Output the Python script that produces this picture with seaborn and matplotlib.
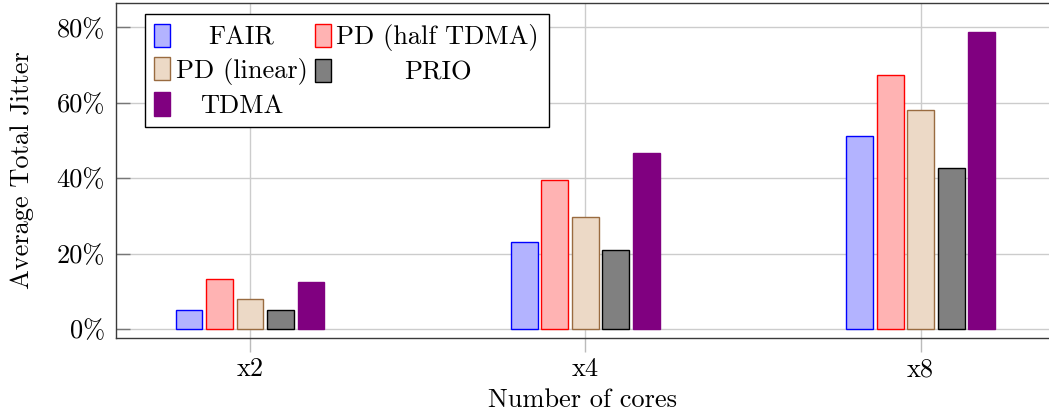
import matplotlib
matplotlib.use("Agg")
import matplotlib.pyplot as plt
import seaborn as sns
import pandas as pd
from matplotlib.ticker import FuncFormatter
from matplotlib.patches import Patch
from matplotlib.transforms import Affine2D

categories = ["x2", "x4", "x8"]
series_names = ["FAIR", "PD (half TDMA)", "PD (linear)", "PRIO", "TDMA"]
fair = [5.0, 23.1, 51.3]
pd_half = [13.2, 39.4, 67.3]
pd_linear = [7.9, 29.8, 58.1]
prio = [5.0, 21.0, 42.8]
tdma = [12.5, 46.8, 78.9]
yticks = [0, 20, 40, 60, 80]

values = [fair, pd_half, pd_linear, prio, tdma]
rows = []
for name, vals in zip(series_names, values):
    for c, v in zip(categories, vals):
        rows.append({"cores": c, "series": name, "jitter": v})
df = pd.DataFrame(rows)

fills = [(0.7, 0.7, 1.0), (1.0, 0.7, 0.7), (0.925, 0.85, 0.775), (0.5, 0.5, 0.5), (0.5, 0.0, 0.5)]
edges = [(0, 0, 1), (1, 0, 0), (0.6, 0.42, 0.25), (0, 0, 0), (0.5, 0.0, 0.5)]

sns.set_theme(style="whitegrid")
plt.rcParams["font.family"] = ["cmr10", "DejaVu Serif"]
plt.rcParams["axes.formatter.use_mathtext"] = True
plt.rcParams["mathtext.fontset"] = "cm"
plt.rcParams["text.color"] = "black"
plt.rcParams["axes.labelcolor"] = "black"
plt.rcParams["xtick.color"] = "black"
plt.rcParams["ytick.color"] = "black"

FS = 19

fig = plt.figure(figsize=(10.49, 4.15), dpi=100)
ax = fig.add_axes([0.1106, 0.1855, 0.8894, 0.8073])

sns.barplot(data=df, x="cores", y="jitter", hue="series", hue_order=series_names,
            order=categories, palette=fills, width=0.455, gap=0.12, ax=ax,
            saturation=1, legend=False, linewidth=1.0)

for i, cont in enumerate(ax.containers):
    for p in cont:
        p.set_facecolor(fills[i])
        p.set_edgecolor(edges[i])
        p.set_linewidth(1.0)

ax.set_xlim(-0.3996, 2.3826)
ax.set_ylim(-2.4, 86.5)
ax.set_yticks(yticks)
ax.yaxis.set_major_formatter(FuncFormatter(lambda v, p: f"{v:.0f}%"))

ax.grid(True, color="#cccccc", linewidth=1.0)
ax.set_axisbelow(True)
for k, s in ax.spines.items():
    s.set_visible(k != "right")
    s.set_color("#3a3a3a")
    s.set_linewidth(1.0)
ax.tick_params(axis="y", direction="in", length=10, width=1.0, labelsize=FS,
               color="#777777", left=True, right=False, pad=8)
ax.tick_params(axis="x", direction="out", length=10, width=1.0, labelsize=FS,
               color="#bbbbbb", bottom=True, top=False, pad=4)

ax.set_xlabel("Number of cores", fontsize=FS, labelpad=5)
ax.set_ylabel("Average Total Jitter", fontsize=FS, labelpad=16)

# row-major legend order (FAIR, PD half / PD linear, PRIO / TDMA) with 2 columns
order = [0, 2, 4, 1, 3]
handles = [Patch(facecolor=fills[i], edgecolor=edges[i], linewidth=1.0) for i in order]
labels = [series_names[i] for i in order]
leg = ax.legend(handles, labels, ncol=2, loc="upper left",
                bbox_to_anchor=(0.031, 0.967), borderaxespad=0, fontsize=FS,
                handlelength=0.6, handleheight=1.0, handletextpad=0.2,
                columnspacing=0.3, labelspacing=0.28, borderpad=0.36,
                fancybox=False, framealpha=1.0, edgecolor="black")
leg.get_frame().set_linewidth(1.0)

# center the legend labels within their columns
fig.canvas.draw()
renderer = fig.canvas.get_renderer()
texts = leg.get_texts()
cols = [[0, 1, 2], [3, 4]]
for col in cols:
    widths = [texts[j].get_window_extent(renderer).width for j in col]
    wmax = max(widths)
    for j, w in zip(col, widths):
        dx = (wmax - w) / 2.0
        t = texts[j]
        t.set_transform(t.get_transform() + Affine2D().translate(dx, 0))

fig.savefig("out.png", dpi=100)
